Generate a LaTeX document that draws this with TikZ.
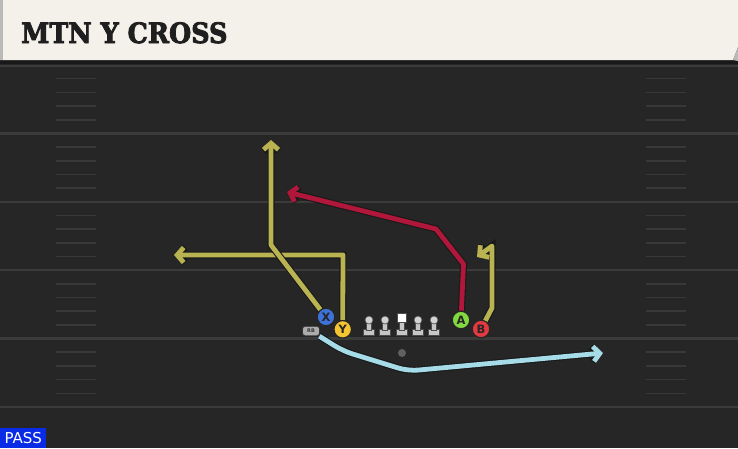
\documentclass[tikz,border=0pt]{standalone}
\usepackage{fontspec}
\usetikzlibrary{shapes}
\usetikzlibrary{positioning}
\usetikzlibrary{arrows.meta}
\newfontfamily\titlefont{DejaVu Serif}[BoldFeatures={FakeBold=3}]
\newfontfamily\labelfont{DejaVu Sans}
\definecolor{fieldbg}{HTML}{262626}
\definecolor{yardgray}{HTML}{3B3B3B}
\definecolor{hashgray}{HTML}{383838}
\definecolor{titlebg}{HTML}{F4F1EA}
\definecolor{routeyel}{HTML}{B9B451}
\definecolor{routered}{HTML}{B0173A}
\definecolor{routecya}{HTML}{A6DCE8}
\definecolor{plyrblue}{HTML}{3D72D9}
\definecolor{plyryel}{HTML}{F5C431}
\definecolor{plyrgreen}{HTML}{82D93F}
\definecolor{plyrred}{HTML}{E33A41}
\definecolor{passblue}{HTML}{0A2BE6}
\tikzset{
    mynode/.style = {circle, line width=1.2pt, draw=black!85, inner sep=0pt, minimum size=17.5pt, align=center, font=\labelfont\bfseries\fontsize{11.5}{11.5}\selectfont, text=black!85},
    mynodeb/.style = {mynode, fill=plyrblue},
    mynodey/.style = {mynode, fill=plyryel},
    mynodeg/.style = {mynode, fill=plyrgreen},
    mynoder/.style = {mynode, fill=plyrred},
    mynodegr/.style = {rectangle, rounded corners=2.5pt, line width=0.9pt, draw=black!80, fill=gray!65, inner sep=0pt, minimum width=17pt, minimum height=9.5pt, font=\labelfont\bfseries\fontsize{5}{5}\selectfont, text=black!80},
    edgen/.style = {line width=4.8pt, line join=round, preaction={draw=black!90, line width=7pt}, -{Straight Barb[length=6.5pt,width=15pt]}},
    edgey/.style = {edgen, draw=routeyel},
    edger/.style = {edgen, draw=routered},
    edgec/.style = {edgen, draw=routecya, rounded corners=10pt},
    yardln/.style = {line width=2.5pt, yardgray},
    hashmk/.style = {line width=1.6pt, hashgray},
    oline/.style = {line width=0.6pt, draw=black!70, fill=gray!45}
}
\begin{document}
\begin{tikzpicture}[x=1pt,y=-1pt]
\useasboundingbox (0,0) rectangle (738,448);
\fill[fieldbg] (0,0) rectangle (738,448);
% field
\foreach \k in {1,...,5} \draw[yardln] (0,{65+\k*68.4}) -- (738,{65+\k*68.4});
\draw[line width=2pt, yardgray] (0,65.5) -- (738,65.5);
\foreach \yl in {65,133.4,201.8,270.2,338.6} {
  \foreach \k in {1,...,4} {
    \draw[hashmk] (56,{\yl+\k*13.68}) -- (96,{\yl+\k*13.68});
    \draw[hashmk] (646,{\yl+\k*13.68}) -- (686,{\yl+\k*13.68});
  }
}
% title bar
\fill[black!90] (0,59) rectangle (738,64);
\fill[titlebg] (0,0) -- (738,0) -- (738,47) -- (733,60) -- (0,60) -- cycle;
\fill[gray!55] (733,60) -- (738,47) -- (738,61) -- cycle;
\fill[gray!55] (0,0) rectangle (3,60);
\node[anchor=base west, inner sep=0pt, font=\titlefont\bfseries\fontsize{28}{28}\selectfont, text=black!88] (title) at (21,43) {\scalebox{0.91}[1]{MTN Y CROSS}};
\node[anchor=south west, fill=passblue, text=white, inner sep=0pt, minimum width=46pt, minimum height=20pt, font=\labelfont\fontsize{15}{15}\selectfont] (play) at (0,448) {PASS};
%
% line
\foreach \lx in {369,385,418,434} {
  \draw[oline] (\lx-5.5,329) rectangle (\lx+5.5,335.5);
  \draw[oline] (\lx-2.3,322) rectangle (\lx+2.3,330);
  \draw[oline, fill=gray!35] (\lx,320) circle (4);
}
\draw[oline] (396,329) rectangle (407,335.5);
\draw[oline] (399.2,321) rectangle (403.8,330);
\draw[line width=0.6pt, draw=black!70, fill=white] (397,313) rectangle (406,322);
%
\node[mynodeb] at (326,317) (X) {X};
\node[mynodey] at (342.7,329.3) (Y) {Y};
\node[mynodeg] at (461,320) (A) {A};
\node[mynoder] at (481,329) (B) {B};
\node[mynodegr] at (311,331) (RB) {RB};
\node[circle, fill=gray!75!black, inner sep=0pt, minimum size=8pt] at (402,353) (qb) {};
%
\coordinate (ybend) at (343,255);
\coordinate (yend) at (174,255);
\coordinate (xbend) at (271,245);
\coordinate (xend) at (271,140);
\coordinate (abend) at (463.5,264);
\coordinate (apost) at (436,229);
\coordinate (aend) at (287,192);
\coordinate (bbend) at (492,308);
\coordinate (bstem) at (492,246);
\coordinate (bend) at (477,257);
\coordinate (rbdip) at (343,351);
\coordinate (rblow) at (408,371);
\coordinate (rbend) at (603,353);
%
\draw[edgey] (Y) -- (ybend) -- (yend);
\draw[edgey] (X) -- (xbend) -- (xend);
\draw[edger] (A) -- (abend) -- (apost) -- (aend);
\draw[edgey] (B) -- (bbend) -- (bstem) -- (bend);
\draw[edgec] (RB) -- (rbdip) -- (rblow) -- (rbend);

\end{tikzpicture}
\end{document}
